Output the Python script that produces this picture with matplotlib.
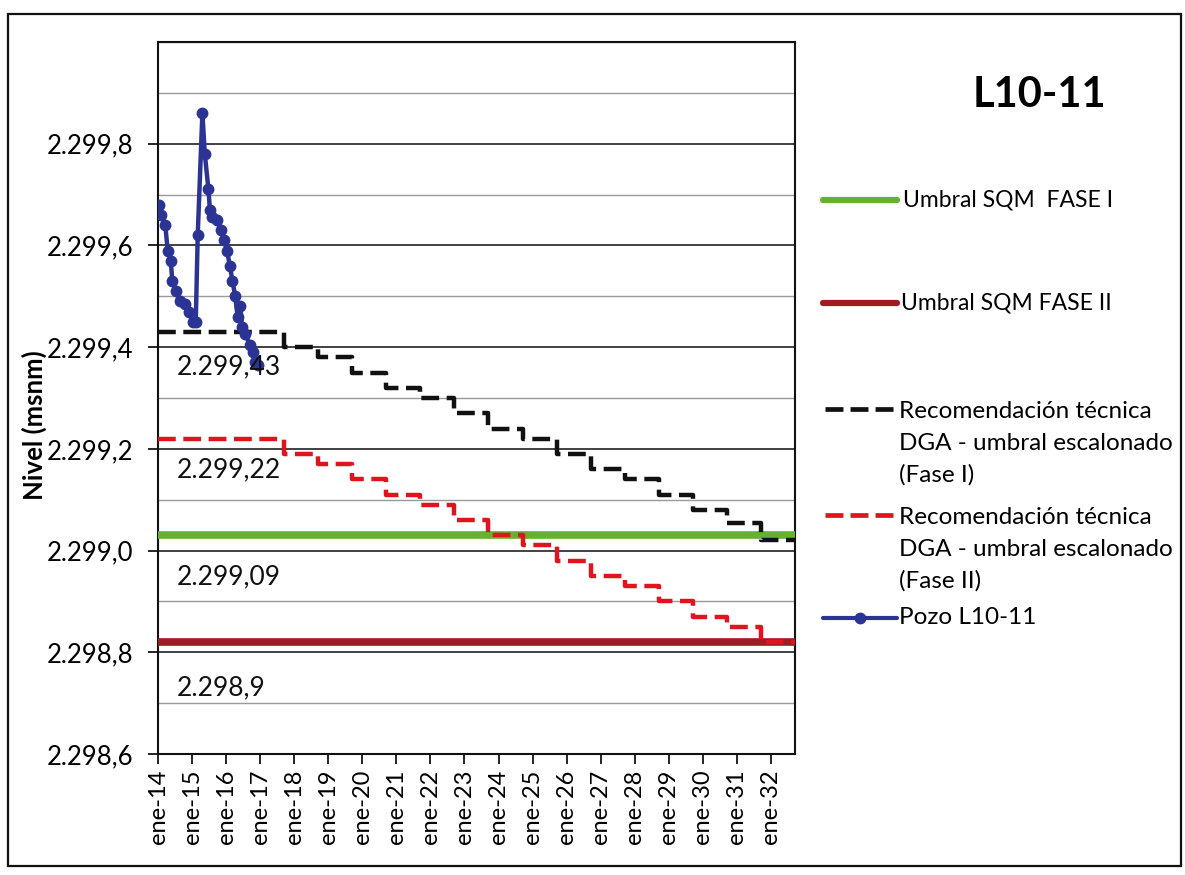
import matplotlib
matplotlib.use('Agg')
import matplotlib.pyplot as plt
import matplotlib.dates as mdates
from matplotlib.lines import Line2D
from matplotlib.patches import Rectangle
from matplotlib.ticker import FixedLocator, MultipleLocator, FuncFormatter
import pandas as pd

plt.rcParams['font.family'] = ['Lato', 'DejaVu Sans']

# ---------------- data ----------------
pozo_dates = ['2014-01-12', '2014-02-06', '2014-03-20', '2014-04-15', '2014-05-18',
              '2014-06-03', '2014-07-12', '2014-08-28', '2014-10-15', '2014-12-01',
              '2015-01-08', '2015-02-10', '2015-03-03', '2015-04-22', '2015-05-18',
              '2015-06-26', '2015-07-12', '2015-08-07', '2015-09-27', '2015-11-10',
              '2015-12-10', '2016-01-12', '2016-02-10', '2016-03-10', '2016-04-08',
              '2016-05-04', '2016-06-02', '2016-06-20', '2016-07-26', '2016-09-12',
              '2016-10-18', '2016-11-10', '2016-12-05']
pozo_values = [2299.68, 2299.66, 2299.64, 2299.59, 2299.57,
               2299.53, 2299.51, 2299.49, 2299.485, 2299.47,
               2299.45, 2299.45, 2299.62, 2299.86, 2299.78,
               2299.71, 2299.67, 2299.655, 2299.65, 2299.63,
               2299.61, 2299.59, 2299.56, 2299.53, 2299.50,
               2299.46, 2299.48, 2299.44, 2299.425, 2299.405,
               2299.39, 2299.37, 2299.365]

step_dates = ['2014-01-01', '2017-09-15', '2018-09-15', '2019-09-15', '2020-09-15',
              '2021-09-15', '2022-09-15', '2023-09-15', '2024-09-15', '2025-09-15',
              '2026-09-15', '2027-09-15', '2028-09-15', '2029-09-15', '2030-09-15',
              '2031-09-15', '2032-09-15']
fase1_steps = [2299.43, 2299.40, 2299.38, 2299.35, 2299.32, 2299.30, 2299.27, 2299.24,
               2299.22, 2299.19, 2299.16, 2299.14, 2299.11, 2299.08, 2299.055, 2299.02]
fase2_steps = [2299.22, 2299.19, 2299.17, 2299.14, 2299.11, 2299.09, 2299.06, 2299.03,
               2299.01, 2298.98, 2298.95, 2298.93, 2298.90, 2298.87, 2298.85, 2298.82]

umbral_fase1 = 2299.03
umbral_fase2 = 2298.82

x_start, x_end = '2014-01-01', '2032-09-15'
tick_years = list(range(2014, 2033))
y_ticks = [2298.6, 2298.8, 2299.0, 2299.2, 2299.4, 2299.6, 2299.8]
y_limits = (2298.6, 2300.0)

data_label_texts = ['2.299,43', '2.299,22', '2.299,09', '2.298,9']
data_label_values = [2299.361, 2299.158, 2298.948, 2298.730]
data_label_date = '2014-07-20'

title = 'L10-11'
ylabel = 'Nivel (msnm)'
legend_labels = ['Umbral SQM  FASE I', 'Umbral SQM FASE II',
                 'Recomendación técnica\nDGA - umbral escalonado\n(Fase I)',
                 'Recomendación técnica\nDGA - umbral escalonado\n(Fase II)',
                 'Pozo L10-11']

# ---------------- styles ----------------
C_GREEN = '#66b032'
C_DRED = '#a11b24'
C_BLACK = '#111111'
C_RED = '#e0141e'
C_BLUE = '#2b3494'

W, H = 1185, 875
fig = plt.figure(figsize=(W / 100, H / 100), dpi=100)
fig.patch.set_facecolor('white')

L, R, T, B = 158, 795, 42, 754
ax = fig.add_axes([L / W, 1 - B / H, (R - L) / W, (B - T) / H])

xs = pd.to_datetime([x_start, x_end])
ax.plot(xs, [umbral_fase1, umbral_fase1], color=C_GREEN, lw=5.5, solid_capstyle='butt', zorder=3)
ax.plot(xs, [umbral_fase2, umbral_fase2], color=C_DRED, lw=5.5, solid_capstyle='butt', zorder=3)

sd = pd.to_datetime(step_dates)
ax.plot(sd, fase1_steps + [fase1_steps[-1]], drawstyle='steps-post', color=C_BLACK,
        lw=3.2, dashes=(4.0, 1.7), zorder=4)
ax.plot(sd, fase2_steps + [fase2_steps[-1]], drawstyle='steps-post', color=C_RED,
        lw=3.2, dashes=(4.0, 1.7), zorder=4)

ax.plot(pd.to_datetime(pozo_dates), pozo_values, color=C_BLUE, lw=3.2, marker='o',
        markersize=7.5, markerfacecolor=C_BLUE, markeredgecolor=C_BLUE, zorder=5)

for txt, v in zip(data_label_texts, data_label_values):
    ax.text(pd.Timestamp(data_label_date), v, txt, fontsize=19, ha='left', va='center',
            color='#111111', zorder=6)

ax.set_xlim(xs[0], xs[1])
ax.set_ylim(*y_limits)

ax.xaxis.set_major_locator(FixedLocator([mdates.date2num(pd.Timestamp(f'{y}-01-01')) for y in tick_years]))
ax.set_xticklabels([f'ene-{str(y)[2:]}' for y in tick_years], rotation=90, fontsize=17)

ax.yaxis.set_major_locator(FixedLocator(y_ticks))
ax.yaxis.set_minor_locator(MultipleLocator(0.1))


def es_fmt(v, pos):
    s = f'{v:,.1f}'
    return s.replace(',', '#').replace('.', ',').replace('#', '.')


ax.yaxis.set_major_formatter(FuncFormatter(es_fmt))
ax.tick_params(axis='y', which='major', labelsize=18.5, length=7, width=1.2, direction='out', pad=11)
ax.tick_params(axis='y', which='minor', length=0)
ax.tick_params(axis='x', which='major', length=7, width=1.2, direction='out', pad=4)

ax.grid(True, which='major', axis='y', color='#333333', lw=1.3, zorder=1)
ax.grid(True, which='minor', axis='y', color='#9a9a9a', lw=1.0, zorder=1)
ax.set_axisbelow(True)
for s in ax.spines.values():
    s.set_color('#111111')
    s.set_linewidth(1.5)

# y label placed in figure coordinates
fig.text(34 / W, 1 - 425 / H, ylabel, fontsize=18.5, fontweight='bold', rotation=90,
         ha='center', va='center')

# title
fig.text(1039 / W, 1 - 95 / H, title, fontsize=30, fontweight='bold', ha='center', va='center')

# legend (manual)
def fy(p):
    return 1 - p / H

def handle(y, color, dashed=False, marker=False, lw=5):
    if dashed:
        ln = Line2D([825 / W, 893 / W], [fy(y), fy(y)], color=color, lw=3.4, dashes=(3.8, 1.5),
                    transform=fig.transFigure)
    else:
        ln = Line2D([823 / W, 897 / W], [fy(y), fy(y)], color=color, lw=lw,
                    solid_capstyle='round', transform=fig.transFigure)
    fig.add_artist(ln)
    if marker:
        fig.add_artist(Line2D([860 / W], [fy(y)], marker='o', markersize=7.5, color=color,
                              transform=fig.transFigure))

handle(200, C_GREEN, lw=4.5)
handle(303, C_DRED, lw=4.5)
handle(409, C_BLACK, dashed=True)
handle(515, C_RED, dashed=True)
handle(618, C_BLUE, marker=True, lw=3.0)

fig.text(903 / W, fy(200), legend_labels[0], fontsize=16.5, ha='left', va='center')
fig.text(901 / W, fy(303), legend_labels[1], fontsize=16.5, ha='left', va='center')
for i, line in enumerate(legend_labels[2].split('\n')):
    fig.text(899 / W, fy(411 + 32 * i), line, fontsize=17.5, ha='left', va='center')
for i, line in enumerate(legend_labels[3].split('\n')):
    fig.text(899 / W, fy(517 + 32 * i), line, fontsize=17.5, ha='left', va='center')
fig.text(899 / W, fy(618), legend_labels[4], fontsize=17.5, ha='left', va='center')

# outer chart frame
fig.add_artist(Rectangle((8 / W, 1 - 866 / H), (1181 - 8) / W, (866 - 14) / H,
                         transform=fig.transFigure, fill=False, edgecolor='#111111', lw=1.6))

fig.savefig('out.png', dpi=100)
